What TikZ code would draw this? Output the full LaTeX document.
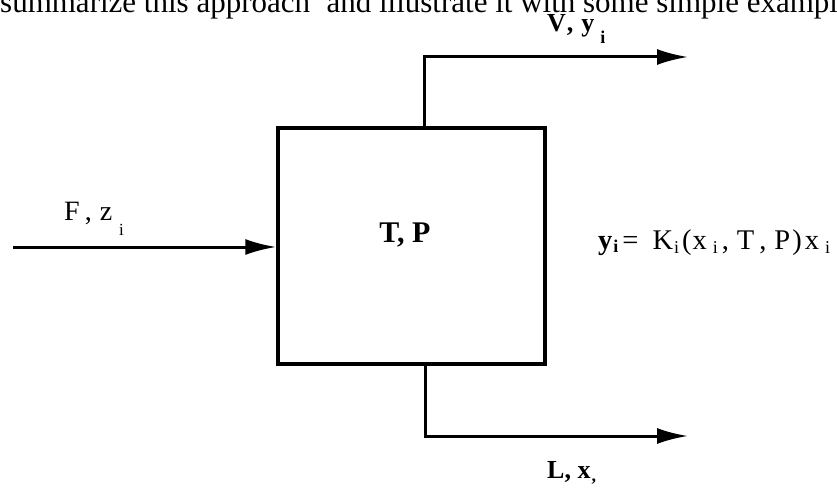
\documentclass[tikz,border=0pt]{standalone}
\usepackage{fontspec}
\setmainfont{Liberation Serif}
\usetikzlibrary{arrows.meta}
\newcommand{\lowsub}[3]{\raisebox{-#1}{\fontsize{#2}{#2}\selectfont #3}}
\begin{document}
\begin{tikzpicture}[x=1pt,y=-1pt,
  flow/.style={line width=3pt,line join=miter,-{Latex[length=31pt,width=16pt]}},
  lbl/.style={inner sep=0pt,anchor=base west},
  unit/.style={draw,line width=3.5pt,minimum width=267pt,minimum height=236pt,inner sep=0pt}]
\useasboundingbox (0,0) rectangle (837,494);
% page text fragment at the top
\node[lbl,font=\fontsize{31}{33}\selectfont] (page) at (0,13)
  {summarize this approach\textsuperscript{\kern1pt\char"2019} and illustrate it with some simple exampl};
% flash unit
\node[unit] (flash) at (411.5,246) {};
\node[inner sep=0pt,font=\fontsize{30}{32}\selectfont\bfseries] (tp) at (405,235) {T, P};
% streams
\coordinate (fin) at (13,247);
\coordinate (vout) at (688,57);
\coordinate (lout) at (688,436);
\draw[flow] (fin) -- (fin -| flash.west);
\draw[flow] ([xshift=12.5pt]flash.north) |- (vout);
\draw[flow] ([xshift=13.5pt]flash.south) |- (lout);
% labels
\node[lbl,font=\fontsize{28}{30}\selectfont] (flab) at (64,221)
  {F\kern5pt,\kern8pt z\kern7pt\lowsub{15pt}{17}{i}};
\node[lbl,font=\fontsize{26}{28}\selectfont\bfseries] (vlab) at (547,32)
  {V\kern1pt,\kern8pt y\kern6pt\lowsub{12pt}{18}{i}};
\node[lbl,font=\fontsize{26}{28}\selectfont\bfseries] (llab) at (547,478)
  {L, x\kern1pt\lowsub{3pt}{18}{,}};
\node[lbl,font=\fontsize{28.5}{30}\selectfont] (eq) at (598,250)
  {{\bfseries y\kern1pt\lowsub{2pt}{18}{i}}\kern4pt=\kern14pt K\kern1pt\lowsub{3pt}{18}{i}\kern3pt(\kern1pt x\kern6pt\lowsub{3pt}{18}{i}\kern4pt,\kern8pt T\kern5pt,\kern8pt P\kern2pt)\kern3pt x\kern6pt\lowsub{3pt}{18}{i}};
\end{tikzpicture}
\end{document}
